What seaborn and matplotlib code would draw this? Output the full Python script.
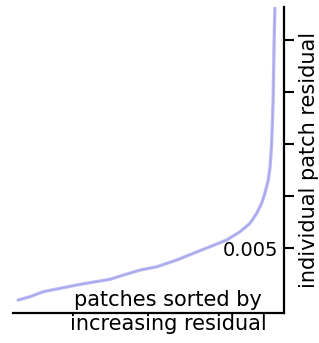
import numpy as np
import pandas as pd
import matplotlib
matplotlib.use('Agg')
import matplotlib.pyplot as plt
import seaborn as sns

# sorted residuals (rank in percent of patches, residual value)
rank = [0.0, 4.7, 9.8, 16.3, 22.8, 28.0, 35.8, 41.0, 47.5, 54.0, 61.8, 68.2,
        74.7, 81.2, 86.4, 90.3, 92.9, 94.8, 96.1, 97.4, 98.1, 98.7, 99.3, 99.7, 100.0]
residual = [0.0000, 0.00032, 0.00080, 0.00112, 0.00144, 0.00167, 0.00199, 0.00240,
            0.00288, 0.00320, 0.00385, 0.00449, 0.00513, 0.00577, 0.00657, 0.00738,
            0.00834, 0.00930, 0.01026, 0.01154, 0.01279, 0.0149, 0.01923, 0.025, 0.0282]
ytick_vals = [0.005, 0.010, 0.015, 0.020, 0.025]
ytick_labels = ['0.005', '', '', '', '']

df = pd.DataFrame({'rank': rank, 'residual': residual})

sns.set_style('white')
plt.rcParams['font.family'] = ['DejaVu Sans']
plt.rcParams['text.color'] = 'black'
plt.rcParams['axes.labelcolor'] = 'black'
plt.rcParams['ytick.color'] = 'black'

fig = plt.figure(figsize=(3.19, 3.43), dpi=100)
ax = fig.add_axes([0.041, 0.0875, 0.849, 0.892])

sns.lineplot(data=df, x='rank', y='residual', ax=ax, color='#bcbcf2', linewidth=2.4)
sns.lineplot(data=df, x='rank', y='residual', ax=ax, color='#a4a4ec', linewidth=0.8)

ax.set_xlim(-1.95, 103.5)
ax.set_ylim(-0.00125, 0.0282)

for s in ['left', 'top']:
    ax.spines[s].set_visible(False)
for s in ['right', 'bottom']:
    ax.spines[s].set_linewidth(1.6)
    ax.spines[s].set_color('black')

ax.set_xticks([])
ax.set_yticks(ytick_vals)
ax.set_yticklabels(ytick_labels)
ax.tick_params(axis='y', left=False, right=True, labelleft=False, labelright=True,
               direction='out', length=7.5, width=1.5, color='black',
               labelsize=14, labelcolor='black', pad=-11.5)
for lab in ax.get_yticklabels():
    lab.set_horizontalalignment('right')

ax.set_xlabel('patches sorted by\nincreasing residual', fontsize=15, linespacing=1.25,
              color='black')
ax.xaxis.set_label_coords(0.572, 0.075)

ax.yaxis.set_label_position('right')
ax.set_ylabel('individual patch residual', fontsize=15, color='black')
ax.yaxis.set_label_coords(1.056, 0.5)

fig.savefig('out.png', dpi=100)
